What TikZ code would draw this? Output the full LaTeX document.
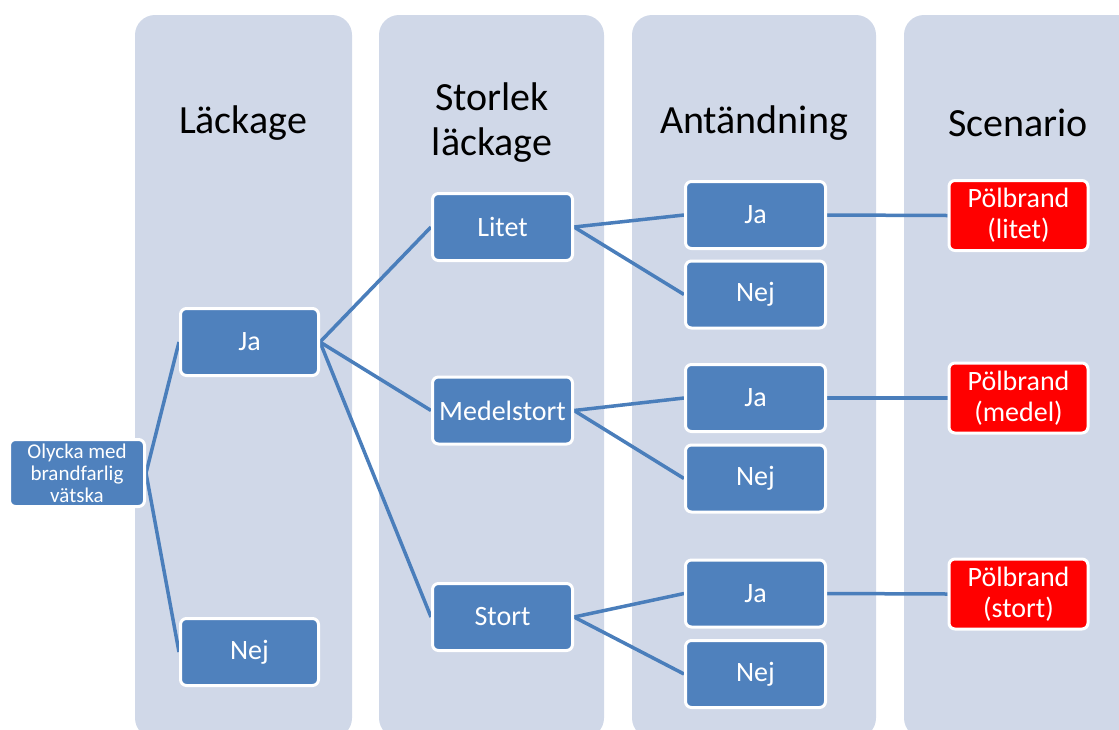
\documentclass[tikz,border=0pt]{standalone}
\usepackage{fontspec}
\setmainfont{Carlito}
\pgfdeclarelayer{lanes}
\pgfdeclarelayer{bg}
\pgfsetlayers{lanes,bg,main}
\definecolor{lanecol}{HTML}{D0D8E8}
\definecolor{boxblue}{HTML}{4F81BD}
\definecolor{linecol}{HTML}{4A7EBB}
\definecolor{redbox}{HTML}{FF0000}
\tikzset{
  lane/.style={fill=lanecol, draw=none, rounded corners=20pt},
  head/.style={align=center, font=\fontsize{40}{45}\selectfont, text=black},
  bluebox/.style={draw=white, line width=3pt, rounded corners=6pt, fill=boxblue,
    minimum width=140pt, minimum height=67pt, inner sep=0pt, text=white,
    align=center, font=\fontsize{28}{31}\selectfont},
  redscen/.style={bluebox, fill=redbox, minimum width=139pt, minimum height=70pt},
  startbox/.style={bluebox, minimum width=135pt, minimum height=67pt,
    font=\fontsize{21}{22}\selectfont},
  conn/.style={draw=linecol, line width=3.5pt}
}
\begin{document}
\begin{tikzpicture}[x=1pt,y=-1pt]
\useasboundingbox (0,0) rectangle (1119,729);
\clip (0,0) rectangle (1119,729);
\begin{pgfonlayer}{lanes}
\fill[lane] (135,15) rectangle (352,738);
\fill[lane] (379,15) rectangle (604,738);
\fill[lane] (632,15) rectangle (876,738);
\fill[lane] (904,15) rectangle (1160,738);
\end{pgfonlayer}
\node[head] (h1) at (243,123) {Läckage};
\node[head] (h2) at (492,123) {Storlek\\läckage};
\node[head] (h3) at (754,123) {Antändning};
\node[head] (h4) at (1018,123) {Scenario};

\node[startbox] (start) at (77,473) {Olycka med\\brandfarlig\\vätska};
\node[bluebox, minimum width=138pt] (ja) at (249.5,342) {Ja};
\node[bluebox, minimum width=138pt] (nej) at (249.5,652) {Nej};

\node[bluebox] (litet) at (502.5,227) {Litet};
\node[bluebox] (medel) at (502.5,410.5) {Medelstort};
\node[bluebox] (stort) at (502.5,617) {Stort};

\node[bluebox] (aja1) at (755.5,215) {Ja};
\node[bluebox] (anej1) at (755.5,294.5) {Nej};
\node[bluebox] (aja2) at (755.5,398) {Ja};
\node[bluebox] (anej2) at (755.5,478.5) {Nej};
\node[bluebox] (aja3) at (755.5,593.5) {Ja};
\node[bluebox] (anej3) at (755.5,674) {Nej};

\node[redscen] (s1) at (1018.5,215.5) {Pölbrand\\(litet)};
\node[redscen] (s2) at (1018.5,398) {Pölbrand\\(medel)};
\node[redscen] (s3) at (1018.5,594) {Pölbrand\\(stort)};

\begin{pgfonlayer}{bg}
\draw[conn] (start.east) -- (ja.west);
\draw[conn] (start.east) -- (nej.west);
\draw[conn] (ja.east) -- (litet.west);
\draw[conn] (ja.east) -- (medel.west);
\draw[conn] (ja.east) -- (stort.west);
\draw[conn] (litet.east) -- (aja1.west);
\draw[conn] (litet.east) -- (anej1.west);
\draw[conn] (medel.east) -- (aja2.west);
\draw[conn] (medel.east) -- (anej2.west);
\draw[conn] (stort.east) -- (aja3.west);
\draw[conn] (stort.east) -- (anej3.west);
\draw[conn] (aja1.east) -- (s1.west);
\draw[conn] (aja2.east) -- (s2.west);
\draw[conn] (aja3.east) -- (s3.west);
\end{pgfonlayer}
\end{tikzpicture}
\end{document}
